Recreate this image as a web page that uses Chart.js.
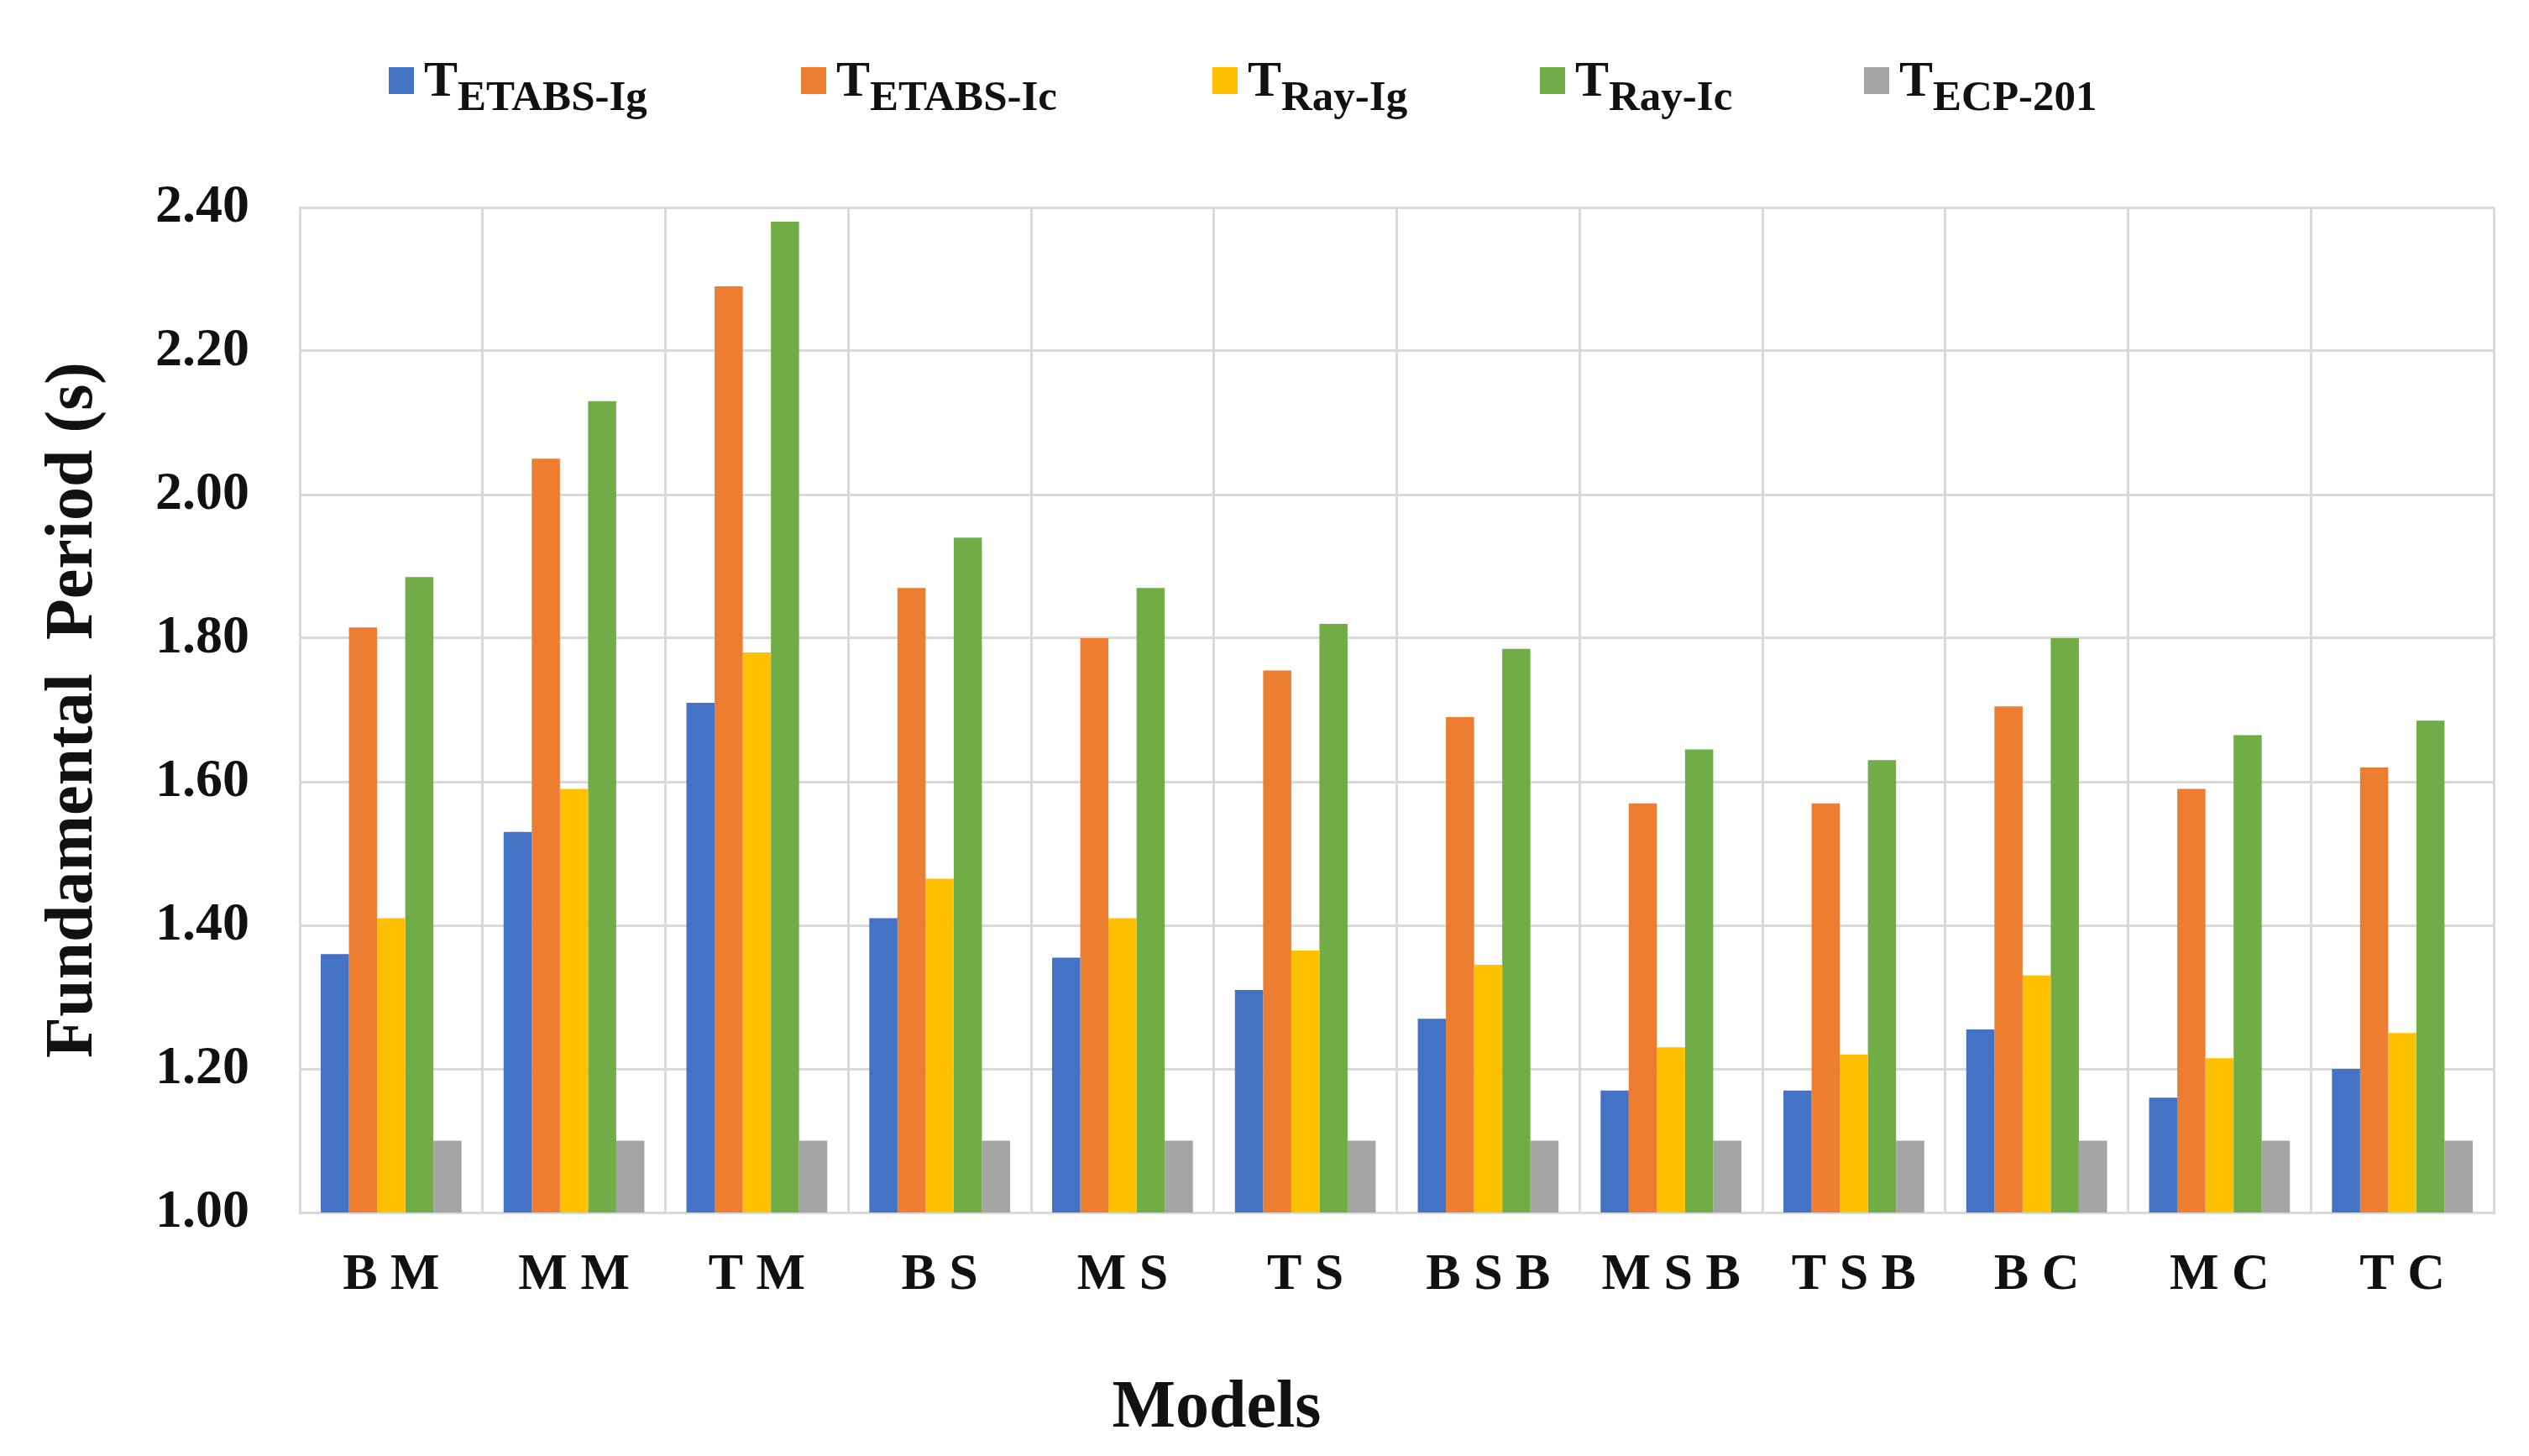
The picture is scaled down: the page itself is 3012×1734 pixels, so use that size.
<!DOCTYPE html>
<html>
<head>
<meta charset="utf-8">
<script src="https://cdn.jsdelivr.net/npm/chart.js@4.4.1/dist/chart.umd.min.js"></script>
<style>
  html, body { margin: 0; padding: 0; background: #fff; }
  #wrap { position: relative; width: 3012px; height: 1734px; }
  #legend {
    position: absolute; left: 0; top: 64px; width: 3012px; height: 120px;
    font-family: "Liberation Serif", serif; font-weight: bold; color: #111;
  }
  .item { position: absolute; top: 0; display: flex; align-items: flex-start; white-space: nowrap; }
  .box { width: 30px; height: 32px; margin-top: 16px; margin-right: 12px; }
  .main { font-size: 60px; line-height: 60px; }
  .main sub { font-size: 51px; vertical-align: -17px; line-height: 0; }
</style>
</head>
<body>
<div id="wrap">
  <canvas id="chart" width="3012" height="1734"></canvas>
  <div id="legend"></div>
</div>
<script>
const models = ["B M", "M M", "T M", "B S", "M S", "T S", "B S B", "M S B", "T S B", "B C", "M C", "T C"];
const seriesNames = ["ETABS-Ig", "ETABS-Ic", "Ray-Ig", "Ray-Ic", "ECP-201"];
const seriesColors = ["#4472C4", "#ED7D31", "#FFC000", "#70AD47", "#A5A5A5"];

const etabsIg = [1.36, 1.53, 1.71, 1.41, 1.355, 1.31, 1.27, 1.17, 1.17, 1.255, 1.16, 1.20];
const etabsIc = [1.815, 2.05, 2.29, 1.87, 1.80, 1.755, 1.69, 1.57, 1.57, 1.705, 1.59, 1.62];
const rayIg = [1.41, 1.59, 1.78, 1.465, 1.41, 1.365, 1.345, 1.23, 1.22, 1.33, 1.215, 1.25];
const rayIc = [1.885, 2.13, 2.38, 1.94, 1.87, 1.82, 1.785, 1.645, 1.63, 1.80, 1.665, 1.685];
const ecp201 = [1.10, 1.10, 1.10, 1.10, 1.10, 1.10, 1.10, 1.10, 1.10, 1.10, 1.10, 1.10];

const yTicks = [1.00, 1.20, 1.40, 1.60, 1.80, 2.00, 2.20, 2.40];

const allSeries = [etabsIg, etabsIc, rayIg, rayIc, ecp201];
const serif = "'Liberation Serif', 'Times New Roman', serif";
const gridColor = "#d9d9d9";

// where each legend entry starts (px)
const legendLeft = [463, 954, 1444, 1834, 2220];

const datasets = allSeries.map((vals, i) => ({
  label: "T " + seriesNames[i],
  data: vals,
  backgroundColor: seriesColors[i],
  borderWidth: 0,
  categoryPercentage: 0.77,
  barPercentage: 1.0
}));

// html legend so the subscripts can be real text
const legend = document.getElementById("legend");
seriesNames.forEach((name, i) => {
  const item = document.createElement("div");
  item.className = "item";
  item.style.left = legendLeft[i] + "px";
  item.innerHTML = `<span class="box" style="background:${seriesColors[i]}"></span>` +
    `<span class="main">T<sub>${name}</sub></span>`;
  legend.appendChild(item);
});

// x axis title sits left of centre in the original
const xTitle = {
  id: "xTitle",
  afterDraw(chart) {
    const ctx = chart.ctx;
    ctx.save();
    ctx.font = "bold 80px " + serif;
    ctx.fillStyle = "#111";
    ctx.textAlign = "center";
    ctx.textBaseline = "middle";
    ctx.fillText("Models", 1449, 1678);
    ctx.restore();
  }
};

new Chart(document.getElementById("chart"), {
  type: "bar",
  data: { labels: models, datasets: datasets },
  plugins: [xTitle],
  options: {
    responsive: false,
    devicePixelRatio: 1,
    animation: false,
    layout: { padding: { top: 247, right: 42, left: 0, bottom: 0 } },
    plugins: {
      legend: { display: false },
      tooltip: { enabled: false }
    },
    scales: {
      x: {
        grid: { color: gridColor, lineWidth: 3, drawTicks: false },
        border: { color: gridColor, width: 3 },
        ticks: {
          color: "#111",
          padding: 38,
          maxRotation: 0,
          font: { family: serif, size: 62, weight: "bold" }
        },
        afterFit: s => { s.height = 290; }
      },
      y: {
        min: 1.0,
        max: 2.4,
        grid: { color: gridColor, lineWidth: 3, drawTicks: false },
        border: { color: gridColor, width: 3 },
        afterBuildTicks: s => { s.ticks = yTicks.map(v => ({ value: v })); },
        ticks: {
          color: "#111",
          padding: 60,
          callback: v => Number(v).toFixed(2),
          font: { family: serif, size: 64, weight: "bold" }
        },
        title: {
          display: true,
          text: "Fundamental  Period (s)",
          color: "#111",
          padding: { top: 40 },
          font: { family: serif, size: 80, weight: "bold" }
        },
        afterFit: s => { s.width = 357; }
      }
    }
  }
});
</script>
</body>
</html>
